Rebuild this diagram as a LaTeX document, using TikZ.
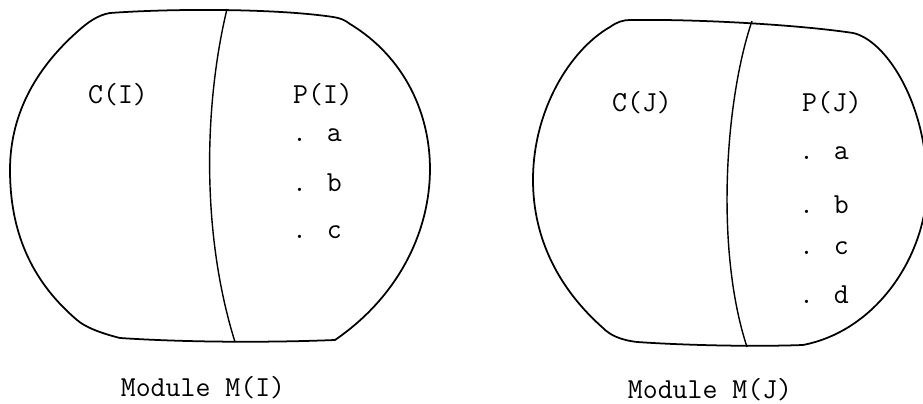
\documentclass[tikz,border=0pt]{standalone}
\usepackage{tikz}
\tikzset{
  outline/.style={draw, line width=1pt, line join=round},
  divider/.style={draw, line width=0.8pt},
  lbl/.style={font=\ttfamily\fontsize{16.5}{19}\selectfont, inner sep=1pt},
}

\begin{document}
\begin{tikzpicture}[x=0.02cm, y=-0.02cm]
  \useasboundingbox (0,0) rectangle (923,404);
  % module I
  \draw[outline] (77,32) .. controls (88,22) and (98,15) .. (110,13)
    .. controls (180,8) and (280,9) .. (333,17)
    .. controls (340,18) and (345,20) .. (350,24)
    .. controls (459,90) and (459,255) .. (335,340)
    .. controls (260,343) and (180,342) .. (120,338)
    .. controls (100,333) and (85,327) .. (77,320)
    .. controls (30,280) and (10,230) .. (10,170)
    .. controls (10,110) and (40,65) .. cycle;
  \draw[divider] (227,9) .. controls (205,100) and (200,230) .. (235,342);
  \node[lbl] (ci) at (118,95) {C(I)};
  \node[lbl] (pi) at (323,95) {P(I)};
  \node[lbl] (pia) at (317,135) {. a};
  \node[lbl] (pib) at (317,183) {. b};
  \node[lbl] (pic) at (317,232) {. c};
  \node[lbl] (mi) at (203,388) {Module M(I)};
  % module J
  \draw[outline] (630,20) .. controls (700,19) and (800,25) .. (853,33)
    .. controls (885,40) and (925,100) .. (927,180)
    .. controls (929,250) and (880,330) .. (803,345)
    .. controls (750,347) and (680,345) .. (637,342)
    .. controls (620,340) and (610,335) .. (603,328)
    .. controls (560,290) and (533,240) .. (533,180)
    .. controls (533,110) and (570,50) .. (610,27)
    .. controls (617,22) and (623,20) .. cycle;
  \draw[divider] (752,21) .. controls (725,100) and (715,250) .. (747,347);
  \node[lbl] (cj) at (642,103) {C(J)};
  \node[lbl] (pj) at (832,103) {P(J)};
  \node[lbl] (pja) at (824,153) {. a};
  \node[lbl] (pjb) at (824,205) {. b};
  \node[lbl] (pjc) at (824,248) {. c};
  \node[lbl] (pjd) at (824,295) {. d};
  \node[lbl] (mj) at (710,390) {Module M(J)};
\end{tikzpicture}
\end{document}
